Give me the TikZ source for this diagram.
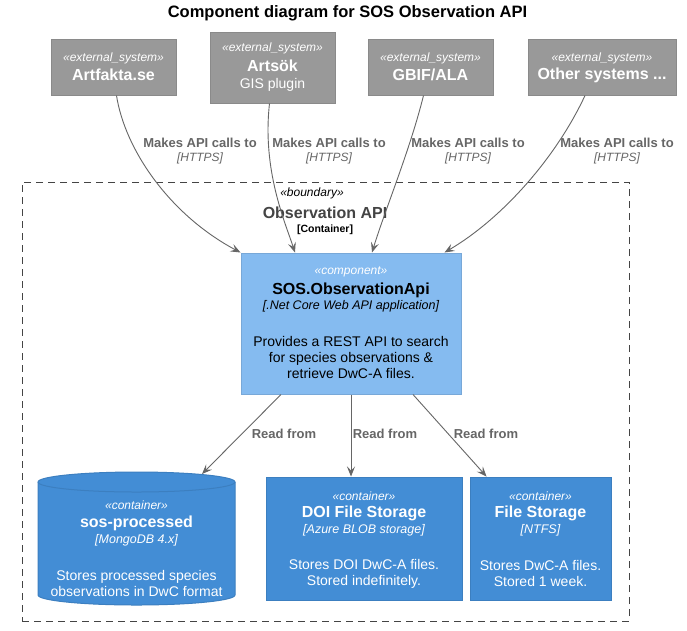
\documentclass[tikz,border=0pt]{standalone}
\usepackage{fontspec}
\setmainfont{Liberation Sans}
\usetikzlibrary{arrows.meta}
\definecolor{extfill}{HTML}{999999}
\definecolor{extdraw}{HTML}{8A8A8A}
\definecolor{compfill}{HTML}{85BBF0}
\definecolor{compdraw}{HTML}{78A8D8}
\definecolor{contfill}{HTML}{438DD5}
\definecolor{contdraw}{HTML}{3C7FC0}
\definecolor{relcol}{HTML}{666666}
\definecolor{bndcol}{HTML}{444444}
\newcommand\fs[1]{\fontsize{#1}{#1}\selectfont}
\tikzset{
  extbox/.style={draw=extdraw, fill=extfill, line width=1pt, inner sep=0pt},
  compbox/.style={draw=compdraw, fill=compfill, line width=1pt, inner sep=0pt},
  contbox/.style={draw=contdraw, fill=contfill, line width=1pt, inner sep=0pt},
  stereo/.style={font=\fs{12}\itshape, inner sep=0pt},
  nm/.style={font=\fs{16}\bfseries, inner sep=0pt},
  tech/.style={font=\fs{12.5}\itshape, inner sep=0pt},
  desc/.style={font=\fontsize{14}{16}\selectfont, inner sep=0pt, align=center},
  rel/.style={draw=relcol, line width=0.9pt, -{Stealth[length=10pt,width=8pt,inset=4pt]}},
  rellab/.style={font=\fs{13}\bfseries, text=relcol, inner sep=0pt},
  relproto/.style={font=\fs{12}\itshape, text=relcol, inner sep=0pt},
}
\begin{document}
\begin{tikzpicture}[x=1pt,y=-1pt]
\useasboundingbox (0,0) rectangle (687,630);
\fill[white] (0,0) rectangle (687,630);
\node[font=\fs{16.5}\bfseries, inner sep=0pt] (title) at (347.5,13) {Component diagram for SOS Observation API};

% external systems
\node[extbox, minimum width=125pt, minimum height=56pt] (artfakta) at (113.5,67) {};
\node[stereo, text=white] (artfaktaS) at (113.5,58) {«external\_system»};
\node[nm, text=white] (artfaktaN) at (113.5,75) {Artfakta.se};

\node[extbox, minimum width=125pt, minimum height=71pt] (artsok) at (272.5,67.5) {};
\node[stereo, text=white] (artsokS) at (272.5,48) {«external\_system»};
\node[nm, text=white] (artsokN) at (272.5,66) {Artsök};
\node[font=\fs{14}, text=white, inner sep=0pt] (artsokD) at (272.5,85) {GIS plugin};

\node[extbox, minimum width=125pt, minimum height=56pt] (gbif) at (430.5,67) {};
\node[stereo, text=white] (gbifS) at (430.5,58) {«external\_system»};
\node[nm, text=white] (gbifN) at (430.5,75) {GBIF/ALA};

\node[extbox, minimum width=148pt, minimum height=56pt] (other) at (602,67) {};
\node[stereo, text=white] (otherS) at (602,58) {«external\_system»};
\node[nm, text=white] (otherN) at (602,75) {Other systems ...};

% boundary
\node[draw=bndcol, dashed, dash pattern=on 7pt off 5pt, line width=0.9pt, minimum width=607pt, minimum height=439pt, inner sep=0pt] (boundary) at (325.5,401.5) {};
\node[stereo, text=black] (bndS) at (312,193) {«boundary»};
\node[font=\fs{16}\bfseries, text=bndcol, inner sep=0pt] (bndN) at (325,213) {Observation API};
\node[font=\fs{10.5}\bfseries, text=black, inner sep=0pt] (bndT) at (325,230) {[Container]};

% component
\node[compbox, minimum width=220pt, minimum height=141pt] (api) at (351,323.5) {};
\node[stereo, text=white] (apiS) at (351,272) {«component»};
\node[nm, text=black] (apiN) at (351,290) {SOS.ObservationApi};
\node[tech, text=black] (apiT) at (351,306) {[.Net Core Web API application]};
\node[desc, text=black] (apiD) at (351,357.5) {Provides a REST API to search\\for species observations \&\\retrieve DwC-A files.};

% database cylinder
\fill[contfill] (38,482) -- (38,595) arc[start angle=180,end angle=360,x radius=98.5pt,y radius=10pt]
  -- (235,482) arc[start angle=0,end angle=180,x radius=98.5pt,y radius=10pt] -- cycle;
\draw[contdraw, line width=1pt] (38,482) -- (38,595) arc[start angle=180,end angle=360,x radius=98.5pt,y radius=10pt]
  -- (235,482) arc[start angle=0,end angle=180,x radius=98.5pt,y radius=10pt];
\draw[contdraw, line width=1pt] (38,482) arc[start angle=180,end angle=360,x radius=98.5pt,y radius=10pt];
\coordinate (dbtop) at (202,474);
\node[stereo, text=white] (dbS) at (136.5,505) {«container»};
\node[nm, text=white] (dbN) at (136.5,523) {sos-processed};
\node[tech, text=white] (dbT) at (136.5,540) {[MongoDB 4.x]};
\node[desc, text=white] (dbD) at (136.5,583) {Stores processed species\\observations in DwC format};

% DOI storage
\node[contbox, minimum width=196pt, minimum height=123pt] (doi) at (364,538.5) {};
\node[stereo, text=white] (doiS) at (364,496) {«container»};
\node[nm, text=white] (doiN) at (364,513) {DOI File Storage};
\node[tech, text=white] (doiT) at (364,530) {[Azure BLOB storage]};
\node[desc, text=white] (doiD) at (364,573.5) {Stores DOI DwC-A files.\\Stored indefinitely.};

% File storage
\node[contbox, minimum width=141pt, minimum height=123pt] (fs) at (540.5,538.5) {};
\node[stereo, text=white] (fsS) at (540.5,496) {«container»};
\node[nm, text=white] (fsN) at (540.5,513) {File Storage};
\node[tech, text=white] (fsT) at (540.5,530) {[NTFS]};
\node[desc, text=white] (fsD) at (540.5,573.5) {Stores DwC-A files.\\Stored 1 week.};

% relations from externals
\draw[rel] (artfakta.south) ++(3,0) coordinate (a1) .. controls (125,150) and (170,215) .. (api.north west);
\draw[rel] (artsok.south) ++(-3,0) coordinate (a2) .. controls (262,170) and (285,222) .. ([xshift=-56pt]api.north);
\draw[rel] (gbif.south) ++(-7,0) coordinate (a3) .. controls (410,150) and (385,210) .. ([xshift=21pt]api.north);
\draw[rel] (other.south) ++(-17,0) coordinate (a4) .. controls (555,160) and (500,220) .. ([xshift=-17pt]api.north east);

\node[rellab] (l1) at (200,143) {Makes API calls to};
\node[relproto] (p1) at (200,158) {[HTTPS]};
\node[rellab] (l2) at (329,143) {Makes API calls to};
\node[relproto] (p2) at (329,158) {[HTTPS]};
\node[rellab] (l3) at (468,143) {Makes API calls to};
\node[relproto] (p3) at (468,158) {[HTTPS]};
\node[rellab] (l4) at (617,143) {Makes API calls to};
\node[relproto] (p4) at (617,158) {[HTTPS]};

% relations to stores
\draw[rel] ([xshift=-70pt]api.south) -- (dbtop);
\draw[rel] (api.south) -- (doi.north -| api.south);
\draw[rel] ([xshift=62pt]api.south) -- ([xshift=17pt]fs.north west);

\node[rellab] (r1) at (284,434) {Read from};
\node[rellab] (r2) at (385,434) {Read from};
\node[rellab] (r3) at (486,434) {Read from};
\end{tikzpicture}
\end{document}
